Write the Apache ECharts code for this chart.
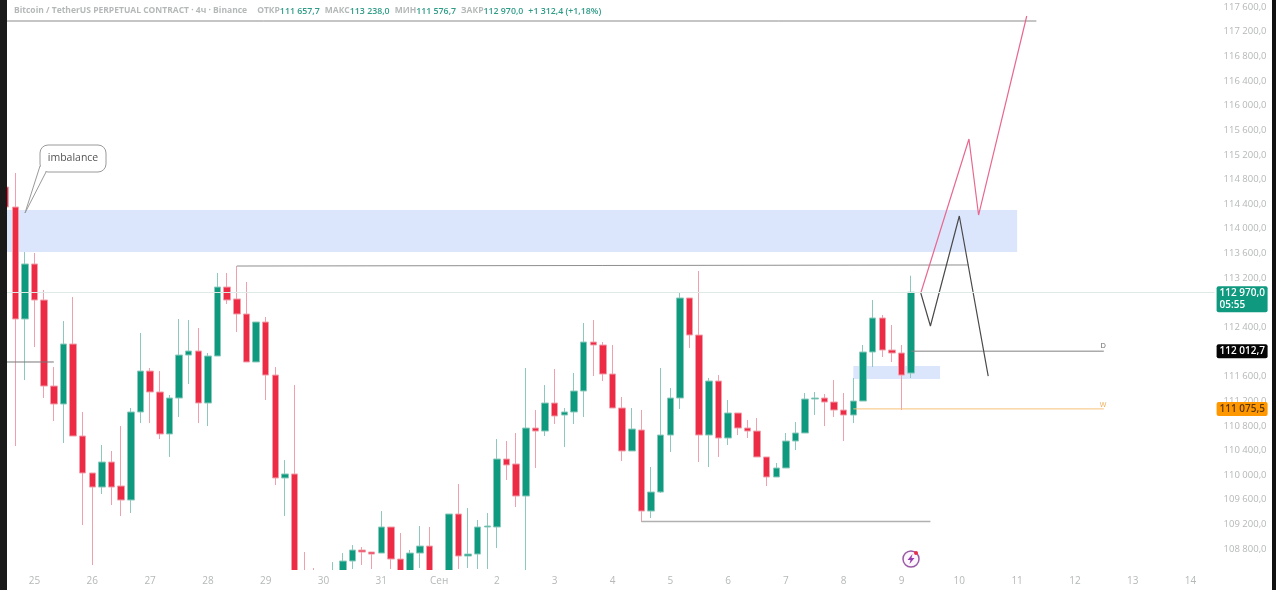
<!DOCTYPE html>
<html>
<head>
<meta charset="utf-8">
<title>BTCUSDT 4h</title>
<script src="https://cdn.jsdelivr.net/npm/echarts@6/dist/echarts.min.js"></script>
<style>
html,body{margin:0;padding:0;background:#fff;}
#container{width:1276px;height:590px;}
</style>
</head>
<body>
<div id="container"></div>
<script>
var dayLabels = ['25','26','27','28','29','30','31','Сен','2','3','4','5','6','7','8','9','10','11','12','13','14'];
var priceTicks = [108800,109200,109600,110000,110400,110800,111200,111600,112000,112400,112800,113200,113600,114000,114400,114800,115200,115600,116000,116400,116800,117200,117600];

// open, close, low, high - 4h bars
var candles = [
[114678,114353,114239,114791],[114353,112535,110473,114905],[112535,113428,111544,113622],[113428,112843,112080,113606],
[112843,111447,111252,113006],[111447,111155,110879,111755],[111155,112129,110522,112502],[112129,110635,110635,112892],
[110635,110035,109190,111025],[110035,109807,108541,110035],[109807,110213,109694,110489],[110213,109807,109515,110392],
[109824,109596,109336,110797],[109596,111025,109385,111090],[111025,111690,110846,112308],[111690,111350,110846,111739],
[111350,110668,110586,111690],[110668,111252,110295,111301],[111252,111950,110944,112535],[111950,112015,111479,112518],
[112015,111171,110846,112389],[111171,111934,110797,111983],[111934,113054,111934,113282],[113054,112843,112778,113282],
[112860,112616,112324,113395],[112616,111837,111837,113136],[111837,112486,111837,112486],[112486,111625,111220,112567],
[111625,109954,109840,111755],[109954,110019,109336,110245],[110019,108200,108100,111463],[108250,108200,108100,108752],
[108300,108200,108100,108492],[108350,108300,108200,108440],[108300,108400,108250,108589],[108420,108606,108300,108735],
[108606,108784,108476,108865],[108784,108752,108541,108833],[108752,108719,108476,108752],[108735,109158,108735,109417],
[109158,108638,108476,109158],[108638,108300,108200,109060],[108300,108735,108200,108784],[108735,108849,108492,109174],
[108849,108300,108200,109158],[108300,108250,108150,108400],[108250,109369,108150,109369],[109369,108687,108476,109856],
[108687,108719,108492,109466],[108719,109158,108476,109271],[109158,109174,108476,109385],[109158,110262,108816,110586],
[110262,110165,109921,110554],[110181,109661,109483,110684],[109661,110765,108400,111739],[110765,110716,110116,111057],
[110716,111171,110635,111463],[111171,110960,110830,111723],[110976,111025,110457,111090],[111025,111366,110830,111658],
[111366,112161,110944,112470],[112161,112113,111609,112518],[112113,111642,111528,112161],[111642,111090,111090,112113],
[111090,110392,110230,111268],[110392,110749,110392,111090],[110733,109417,109239,111057],[109417,109726,109304,110132],
[109726,110651,109710,111739],[110651,111252,110376,111414],[111252,112876,111074,112957],[112876,112275,112064,112876],
[112275,110651,110213,113314],[110651,111528,110132,111577],[111528,110603,110295,111625],[110603,111009,110489,111220],
[111009,110765,110651,111009],[110765,110716,110603,110895],[110716,110295,110295,110927],[110295,109970,109824,110295],
[109970,110116,109970,110197],[110116,110554,110116,110684],[110554,110684,110408,110862],[110684,111236,110684,111333],
[111236,111252,110976,111350],[111252,111187,110797,111317],[111187,111057,110944,111544],[111057,110976,110554,111333],
[110976,111203,110846,111577],[111203,111999,111203,112113],[111999,112551,111755,112843],[112551,112031,111918,112600],
[112031,111983,111837,112437],[111983,111625,111057,112113],[111657,112970,111577,113238]
];

// drawings, [bar index, price]
var pinkPath = [[95,112957],[100,115457],[101,114223],[106,117454]];
var blackPath = [[95,112957],[96,112421],[99,114207],[102,111609]];
var topLevel = [[0,117373],[107,117373]];
var swingHigh = [[24,113395],[24,113412],[100,113412]];
var leftLevel = [[0,111837],[5,111837]];
var swingLow = [[66,109247],[96,109247]];
var dLevel = [[94,112012.7],[114,112012.7]];
var wLevel = [[88,111075.5],[114,111075.5]];
var bigZone = {from:0,to:105,top:114304,bottom:113622};
var smallZone = {from:88,to:97,top:111772,bottom:111560};
var lastPrice = 112970;
var dailyPrice = 112012.7;
var weeklyPrice = 111075.5;

var categories = [];
for (var i = 0; i < 126; i++) {
	var k = (i - 3) / 6;
	categories.push(k >= 0 && k === Math.floor(k) ? dayLabels[k] : 'b' + i);
}

function fmtPrice(v) {
	var s = v.toFixed(1).replace('.', ',');
	return s.slice(0, 3) + ' ' + s.slice(3);
}

function drawing(data, color, width, extra) {
	var s = {
		type: 'line',
		data: data,
		symbol: 'none',
		silent: true,
		animation: false,
		z: 4,
		lineStyle: {color: color, width: width}
	};
	for (var key in extra) s[key] = extra[key];
	return s;
}

function priceTag(price, text, bg, labelColor, lineColor, offset) {
	return {
		yAxis: price,
		lineStyle: {color: lineColor, width: 1, type: 'solid'},
		label: {
			show: true,
			position: 'end',
			distance: 2,
			formatter: text,
			backgroundColor: bg,
			color: labelColor,
			fontFamily: 'Open Sans',
			fontWeight: 600,
			fontSize: 10,
			lineHeight: 12,
			borderRadius: 2,
			width: 46,
			align: 'left',
			padding: [1, 2, 1, 3],
			offset: offset
		}
	};
}

var dom = document.getElementById('container');
var myChart = echarts.init(dom);

var option = {
	animation: false,
	backgroundColor: '#fff',
	title: {
		left: 14,
		top: 2,
		padding: 0,
		text: '{t|Bitcoin / TetherUS PERPETUAL CONTRACT · 4ч · Binance}  {t|ОТКР}{v|111 657,7} {t|МАКС}{v|113 238,0} {t|МИН}{v|111 576,7} {t|ЗАКР}{v|112 970,0} {v|+1 312,4 (+1,18%)}',
		textStyle: {
			rich: {
				t: {color: '#b4b8b8', fontSize: 8.5, fontFamily: 'Open Sans'},
				v: {color: '#2f9c88', fontSize: 8.8, fontFamily: 'Open Sans', fontWeight: 600}
			}
		}
	},
	grid: {left: 0.8, right: 61.4, top: 0, bottom: 20},
	xAxis: {
		type: 'category',
		data: categories,
		boundaryGap: true,
		z: 10,
		axisLine: {show: false},
		axisTick: {show: false},
		splitLine: {show: false},
		axisLabel: {
			color: '#b5b8b8',
			fontSize: 10,
			fontFamily: 'Open Sans',
			margin: 6,
			interval: function (index, value) { return value.charAt(0) !== 'b'; },
			hideOverlap: false
		}
	},
	yAxis: {
		type: 'value',
		position: 'right',
		min: 108460,
		max: 117714,
		axisLine: {show: false},
		axisTick: {show: false},
		splitLine: {show: false},
		axisLabel: {
			customValues: priceTicks,
			color: '#b5b8b8',
			fontSize: 9.5,
			fontFamily: 'Open Sans',
			margin: 9,
			padding: [4, 0, 0, 0],
			formatter: function (v) { return fmtPrice(v); }
		}
	},
	series: [
		{
			type: 'candlestick',
			data: candles,
			barWidth: 7,
			clip: true,
			z: 2,
			itemStyle: {
				color: '#0d9a7e',
				color0: '#ee2b45',
				borderColor: '#8cc9bc',
				borderColor0: '#f0a0ac',
				borderWidth: 1
			},
			markArea: {
				silent: true,
				z: 1,
				itemStyle: {color: '#dbe5fc'},
				data: [
					[{xAxis: bigZone.from, yAxis: bigZone.top}, {xAxis: bigZone.to, yAxis: bigZone.bottom}],
					[{xAxis: smallZone.from, yAxis: smallZone.top}, {xAxis: smallZone.to, yAxis: smallZone.bottom}]
				]
			},
			markLine: {
				silent: true,
				symbol: 'none',
				animation: false,
				z: 6,
				data: [
					priceTag(lastPrice, fmtPrice(lastPrice) + '\n05:55', '#0f9a80', '#fff', '#dfe9e6', [0, 7]),
					priceTag(dailyPrice, fmtPrice(dailyPrice), '#050505', '#fff', 'rgba(0,0,0,0)', [0, 0]),
					priceTag(weeklyPrice, fmtPrice(weeklyPrice), '#ff9800', '#5c3600', 'rgba(0,0,0,0)', [0, 0])
				]
			}
		},
		drawing(topLevel, '#8a8a8a', 1),
		drawing(swingHigh, '#8f8f8f', 1),
		drawing(leftLevel, '#777', 1),
		drawing(swingLow, '#b0b0b0', 1.5),
		drawing(dLevel, '#808080', 1, {endLabel: {show: true, formatter: 'D', color: '#666', fontSize: 7, offset: [-11, -5]}}),
		drawing(wLevel, '#f6c27a', 1, {endLabel: {show: true, formatter: 'W', color: '#f0b060', fontSize: 7, offset: [-12, -4]}}),
		drawing(pinkPath, '#e8688f', 1.2),
		drawing(blackPath, '#4a4a4a', 1.2)
	],
	graphic: [
		// candles that run off the bottom of the pane stop at the date scale
		{type: 'rect', z: 5, silent: true, shape: {x: 7, y: 570, width: 1209, height: 20}, style: {fill: '#fff'}},
		{type: 'rect', z: 50, silent: true, shape: {x: 0, y: 0, width: 7, height: 590}, style: {fill: '#1a1a1a'}},
		{type: 'rect', z: 50, silent: true, shape: {x: 1272, y: 0, width: 4, height: 590}, style: {fill: '#111'}},
		{type: 'polyline', z: 20, silent: true, shape: {points: [[40, 166], [25, 213], [46, 172]]}, style: {fill: '#fff', stroke: '#9a9a9a', lineWidth: 1}},
		{type: 'rect', z: 19, silent: true, shape: {x: 40, y: 145, width: 66, height: 27, r: 8}, style: {fill: '#fff', stroke: '#9a9a9a', lineWidth: 1}},
		{type: 'rect', z: 21, silent: true, shape: {x: 41, y: 165, width: 8, height: 6}, style: {fill: '#fff'}},
		{type: 'text', z: 22, silent: true, x: 73, y: 158, style: {text: 'imbalance', fill: '#555', fontSize: 10.5, fontFamily: 'Open Sans', align: 'center', verticalAlign: 'middle'}},
		{type: 'circle', z: 20, silent: true, shape: {cx: 911, cy: 559, r: 8}, style: {fill: '#fdf6fd', stroke: '#9a5ba5', lineWidth: 1.5}},
		{type: 'polygon', z: 21, silent: true, shape: {points: [[912.5, 554], [907.5, 560], [910.5, 560], [909.5, 564], [914.5, 558], [911.5, 558]]}, style: {fill: '#9a3fb0'}},
		{type: 'circle', z: 22, silent: true, shape: {cx: 916, cy: 553, r: 2}, style: {fill: '#e8304a'}}
	]
};

myChart.setOption(option, true);
</script>
</body>
</html>
